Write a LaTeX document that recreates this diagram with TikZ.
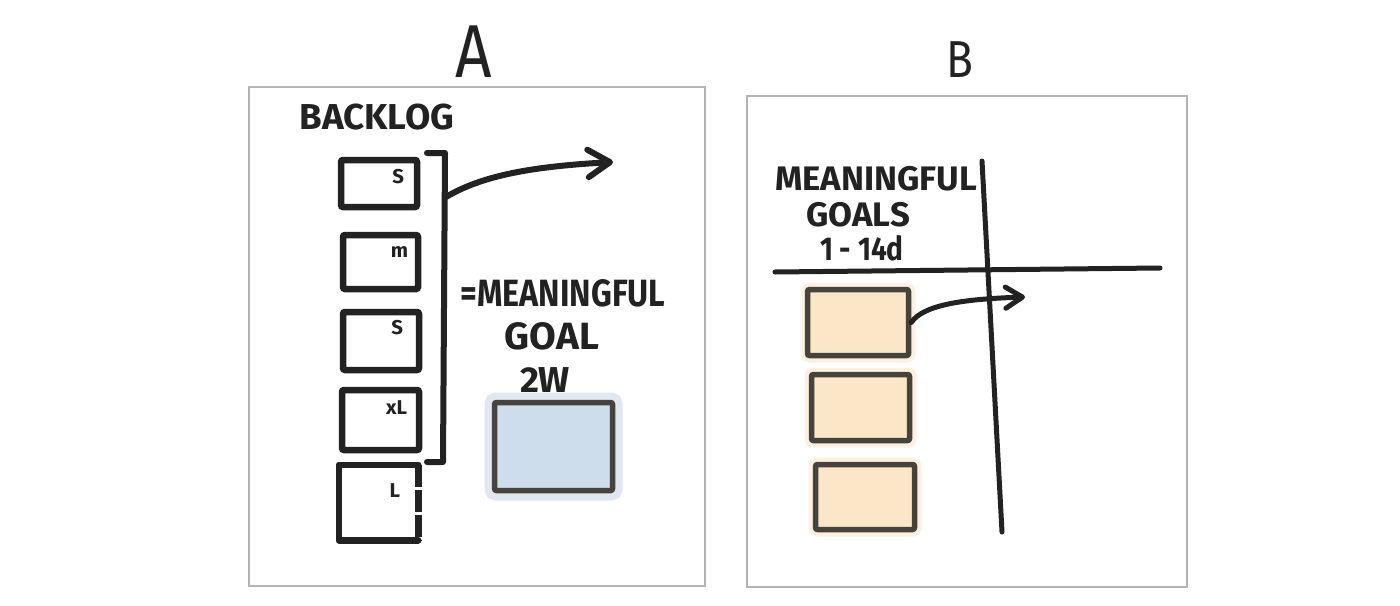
\documentclass[tikz,border=0pt]{standalone}
\usepackage{fontspec}
\newfontfamily\sketchfont{Fira Sans}[FakeStretch=0.85]
\newfontfamily\sketchwide{Fira Sans}[FakeStretch=1.02]
\usetikzlibrary{arrows.meta,positioning}

\definecolor{inkline}{HTML}{222222}
\definecolor{boxline}{HTML}{46423C}
\definecolor{framegray}{HTML}{B4B4B4}
\definecolor{goalblue}{HTML}{CEDDEB}
\definecolor{haloblue}{HTML}{DFE8F1}
\definecolor{goalsand}{HTML}{FBE7C8}
\definecolor{halosand}{HTML}{FCF1E1}

\tikzset{
  frame/.style={draw=framegray, line width=1.2pt},
  title/.style={font=\sketchfont\fontsize{#1}{#1}\selectfont, text=inkline, inner sep=0pt},
  hand/.style={font=\sketchfont\bfseries\fontsize{#1}{#1}\selectfont, text=inkline, inner sep=0pt},
  handwide/.style={font=\sketchwide\bfseries\fontsize{#1}{#1}\selectfont, text=inkline, inner sep=0pt},
  tag/.style={font=\sketchwide\bfseries\fontsize{20}{20}\selectfont, text=inkline, inner sep=0pt},
  card/.style={draw=inkline, line width=6.5pt, rounded corners=2pt, inner sep=0pt},
  bluecard/.style={draw=boxline, fill=goalblue, line width=5.5pt, rounded corners=2pt, inner sep=0pt,
    preaction={draw=haloblue, line width=20pt, rounded corners=6pt}},
  sandcard/.style={draw=boxline, fill=goalsand, line width=5.5pt, rounded corners=2pt, inner sep=0pt,
    preaction={draw=halosand, line width=14pt, rounded corners=6pt}},
  inkline/.style={draw=inkline, line width=6pt, line cap=round, line join=round},
  inkarrow/.style={inkline, -{Straight Barb[length=#1, width=1.25*#1, round]}}
}

\begin{document}
\begin{tikzpicture}[x=1pt, y=-1pt]
\useasboundingbox (0,0) rectangle (1400,605);
\fill[white] (0,0) rectangle (1400,605);

%%%%% A %%%%%

\draw[frame] (249,87) rectangle (705,586);
\node[title=75] (titleA) at (474,52) {A};
\node[handwide=36] (backlog) at (377,117) {BACKLOG};

\node[card, minimum width=76pt, minimum height=47pt] (cardS) at (379,183.5) {};
\node[card, minimum width=75pt, minimum height=54pt] (cardM) at (380.5,262) {};
\node[card, minimum width=76pt, minimum height=58pt] (cardSb) at (381,341) {};
\node[card, minimum width=77pt, minimum height=60pt] (cardXL) at (380.5,420) {};
\node[card, draw=none, minimum width=73pt, minimum height=69pt] (cardL) at (378.5,502.5) {};
\draw[inkline, line width=6.5pt] (cardL.north east) -- (cardL.north west) -- (cardL.south west) -- (cardL.south east);
\draw[inkline, line width=6.5pt, line cap=butt, dash pattern=on 22pt off 3pt on 22pt off 3pt] (cardL.north east) -- (cardL.south east);

\node[tag, below left=12pt and 16pt of cardS.north east] (tagS) {S};
\node[tag, below left=15pt and 13pt of cardM.north east] (tagM) {m};
\node[tag, below left=11pt and 19pt of cardSb.north east] (tagSb) {S};
\node[tag, below left=14pt and 15pt of cardXL.north east] (tagXL) {xL};
\node[tag, below left=19pt and 18pt of cardL.north east] (tagL) {L};

% bracket round the first four cards
\coordinate (brkTop) at (445,153);
\coordinate (brkBot) at (443,462);
\coordinate (brkMid) at (446,197);
\coordinate (aEnd) at (613,162);
\draw[inkline] (427,153) -- (brkTop) -- (brkBot) -- (427,462);
\draw[inkarrow=22pt] (brkMid) .. controls +(40,-24) and +(-70,4) .. (aEnd);

\node[hand=38] (meaningA) at (563,293) {=MEANINGFUL};
\node[handwide=38] (goalA) at (552,336) {GOAL};
\node[handwide=36] (twoW) at (545,380) {2W};

\node[bluecard, minimum width=118pt, minimum height=88pt] (goalbox) at (553.5,446.5) {};

%%%%% B %%%%%

\draw[frame] (747,96) rectangle (1187,587);
\node[title=52] (titleB) at (960,60) {B};

\node[handwide=34] (meaningB) at (876,179) {MEANINGFUL};
\node[handwide=34] (goalsB) at (858,215) {GOALS};
\node[hand=33] (daysB) at (862,248) {1 - 14d};

\coordinate (vTop) at (982,161);
\coordinate (vBot) at (1002,532);
\coordinate (hLeft) at (775,272);
\coordinate (hRight) at (1160,268);
\draw[inkline, line width=5pt] (vTop) -- (vBot);
\draw[inkline, line width=5pt] (hLeft) -- (hRight);

\node[sandcard, minimum width=101pt, minimum height=66pt] (goal1) at (858,322.5) {};
\node[sandcard, minimum width=98pt, minimum height=66pt] (goal2) at (860.5,407.5) {};
\node[sandcard, minimum width=99pt, minimum height=65pt] (goal3) at (865,497) {};

\coordinate (bEnd) at (1025,297);
\draw[inkarrow=17pt, line width=5pt] (goal1.east) .. controls +(12,-18) and +(-60,2) .. (bEnd);

\end{tikzpicture}
\end{document}
